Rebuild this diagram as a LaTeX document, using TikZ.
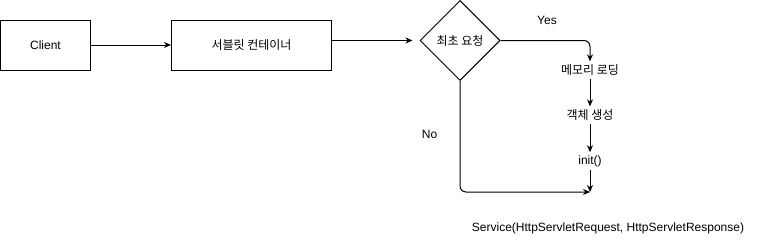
\documentclass[tikz,border=0pt]{standalone}
\usepackage{fontspec}
\setmainfont{Liberation Sans}
\newfontfamily\hangul{Noto Sans CJK KR}
\usetikzlibrary{arrows.meta,positioning,calc,shapes.geometric}
\tikzset{
  procbox/.style={draw, line width=1pt, rectangle, minimum width=#1, minimum height=50pt,
    align=center, font=\fontsize{12}{14}\selectfont, inner sep=0pt},
  procbox/.default=90pt,
  decbox/.style={draw, diamond, aspect=1, line width=1pt, minimum width=80pt, minimum height=80pt,
    align=center, font=\fontsize{12}{14}\selectfont, inner sep=0pt},
  steptext/.style={align=center, font=\fontsize{12}{14}\selectfont, inner sep=3pt},
  flowarr/.style={-{Stealth[length=7pt, width=6pt]}, line width=1pt},
}

\begin{document}
\begin{tikzpicture}[x=1pt, y=-1pt]
    \useasboundingbox (0,0) rectangle (762,241);

    \node[procbox=90pt] (client) at (45.5,45) {Client};
    \node[procbox=160pt, right=80pt of client] (container) {\hangul 서블릿 컨테이너};

    \node[decbox] (first) at (460,40.5) {\hangul 최초 요청};

    \node[steptext] (memload) at (590,70) {\hangul 메모리 로딩};
    \node[steptext] (create) at (590,115) {\hangul 객체 생성};
    \node[steptext] (init) at (590,161) {init()};
    \coordinate (svcin) at (590,192);
    \node[steptext] (service) at (608,228) {Service(HttpServletRequest, HttpServletResponse)};

    \node[steptext] (yes) at (547,20) {Yes};
    \node[steptext] (no) at (429.5,134) {No};

    \draw[flowarr] (client) -- (container);
    \draw[flowarr, shorten >=7pt] (container.east |- first.west) -- (first.west);
    \draw[flowarr, rounded corners=6pt] (first.east) -- (first.east -| memload.north) -- (memload.north);
    \draw[flowarr] (memload) -- (create);
    \draw[flowarr] (create) -- (init);
    \draw[flowarr] (init) -- (svcin);
    \draw[flowarr, rounded corners=6pt] (first.south) -- (first.south |- svcin) -- (svcin);
  \end{tikzpicture}
\end{document}
